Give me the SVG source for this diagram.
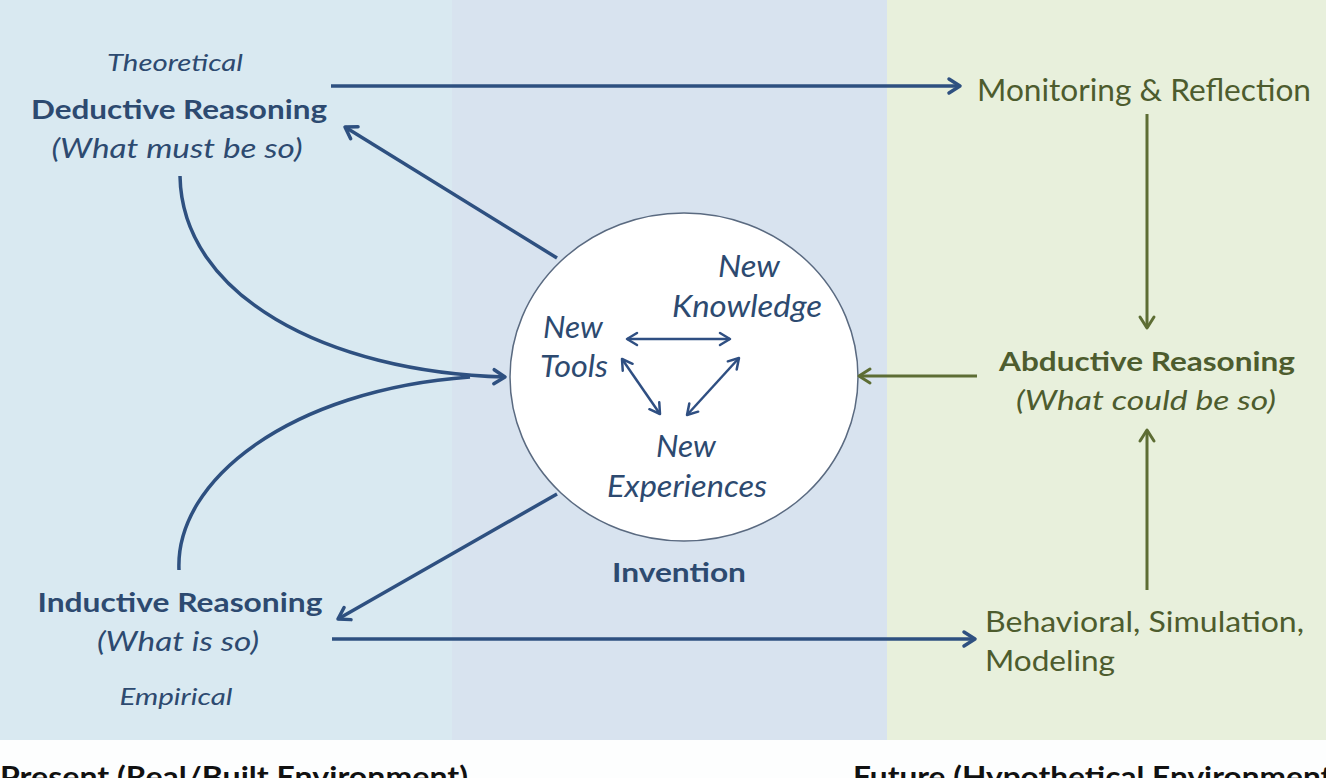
<svg xmlns="http://www.w3.org/2000/svg" width="1326" height="778" viewBox="0 0 1326 778">
<defs>
<style>
.t{font-family:Lato,"Open Sans","Liberation Sans",sans-serif;}
.b{font-weight:bold;}
.i{font-style:italic;}
.blue{fill:#2d4a70;}
.green{fill:#4d5c2e;}
.bl{stroke:#2e5080;stroke-width:3.5;fill:none;}
.gl{stroke:#5d6d34;stroke-width:3;fill:none;}
.il{stroke:#2f4f82;stroke-width:2.5;fill:none;}
</style>
<marker id="ab" markerUnits="userSpaceOnUse" markerWidth="20" markerHeight="20" refX="14" refY="8" orient="auto-start-reverse" viewBox="0 0 20 16">
<path d="M3,1 L14,8 L3,15" fill="none" stroke="#2e5080" stroke-width="3.5" stroke-linecap="round" stroke-linejoin="round"/>
</marker>
<marker id="ag" markerUnits="userSpaceOnUse" markerWidth="20" markerHeight="20" refX="14" refY="8" orient="auto-start-reverse" viewBox="0 0 20 16">
<path d="M3,1 L14,8 L3,15" fill="none" stroke="#5d6d34" stroke-width="3" stroke-linecap="round" stroke-linejoin="round"/>
</marker>
<marker id="ai" markerUnits="userSpaceOnUse" markerWidth="18" markerHeight="18" refX="12" refY="7" orient="auto-start-reverse" viewBox="0 0 18 14">
<path d="M2,1 L12,7 L2,13" fill="none" stroke="#2f4f82" stroke-width="2.5" stroke-linecap="round" stroke-linejoin="round"/>
</marker>
</defs>

<g id="background">
<rect x="0" y="0" width="1326" height="778" fill="#fdfefe"/>
<rect x="0" y="0" width="452" height="740" fill="#d9e9f1"/>
<rect x="452" y="0" width="435" height="740" fill="#d8e3ef"/>
<rect x="887" y="0" width="439" height="740" fill="#e8f0dc"/>
</g>

<g id="invention">
<ellipse cx="684" cy="377" rx="174" ry="164" fill="#ffffff" stroke="#5a6a80" stroke-width="1.5"/>
<text class="t i blue" font-size="30" x="749" y="277" text-anchor="middle" textLength="62" lengthAdjust="spacingAndGlyphs">New</text>
<text class="t i blue" font-size="30" x="747" y="317" text-anchor="middle" textLength="150" lengthAdjust="spacingAndGlyphs">Knowledge</text>
<text class="t i blue" font-size="30" x="573" y="338" text-anchor="middle" textLength="60" lengthAdjust="spacingAndGlyphs">New</text>
<text class="t i blue" font-size="30" x="574" y="377" text-anchor="middle" textLength="68" lengthAdjust="spacingAndGlyphs">Tools</text>
<text class="t i blue" font-size="30" x="686" y="457" text-anchor="middle" textLength="60" lengthAdjust="spacingAndGlyphs">New</text>
<text class="t i blue" font-size="30" x="687" y="497" text-anchor="middle" textLength="160" lengthAdjust="spacingAndGlyphs">Experiences</text>
<text class="t b blue" font-size="27" x="679" y="582" text-anchor="middle" textLength="134" lengthAdjust="spacingAndGlyphs">Invention</text>
</g>

<g id="deductive">
<text class="t i blue" font-size="24" x="175" y="71" text-anchor="middle" textLength="136" lengthAdjust="spacingAndGlyphs">Theoretical</text>
<text class="t b blue" font-size="27" x="179" y="119" text-anchor="middle" textLength="296" lengthAdjust="spacingAndGlyphs">Deductive Reasoning</text>
<text class="t i blue" font-size="27" x="177" y="158" text-anchor="middle" textLength="251" lengthAdjust="spacingAndGlyphs">(What must be so)</text>
</g>

<g id="inductive">
<text class="t b blue" font-size="27" x="180" y="612" text-anchor="middle" textLength="285" lengthAdjust="spacingAndGlyphs">Inductive Reasoning</text>
<text class="t i blue" font-size="27" x="178" y="651" text-anchor="middle" textLength="162" lengthAdjust="spacingAndGlyphs">(What is so)</text>
<text class="t i blue" font-size="24" x="176" y="705" text-anchor="middle" textLength="113" lengthAdjust="spacingAndGlyphs">Empirical</text>
</g>

<g id="monitoring">
<text class="t green" font-size="31" x="977" y="101" textLength="334" lengthAdjust="spacingAndGlyphs">Monitoring &amp; Reflection</text>
</g>

<g id="abductive">
<text class="t b green" font-size="27" x="1147" y="371" text-anchor="middle" textLength="296" lengthAdjust="spacingAndGlyphs">Abductive Reasoning</text>
<text class="t i green" font-size="27" x="1146" y="410" text-anchor="middle" textLength="260" lengthAdjust="spacingAndGlyphs">(What could be so)</text>
</g>

<g id="behavioral">
<text class="t green" font-size="29" x="985" y="632" textLength="319" lengthAdjust="spacingAndGlyphs">Behavioral, Simulation,</text>
<text class="t green" font-size="29" x="985" y="671" textLength="130" lengthAdjust="spacingAndGlyphs">Modeling</text>
</g>

<g id="footer">
<text class="t b" font-size="28" fill="#111111" x="0" y="787" textLength="468" lengthAdjust="spacingAndGlyphs">Present (Real/Built Environment)</text>
<text class="t b" font-size="28" fill="#111111" x="853" y="787" textLength="488" lengthAdjust="spacingAndGlyphs">Future (Hypothetical Environment)</text>
</g>

<g id="connectors">
<path class="bl" d="M331,86 L960,86" marker-end="url(#ab)"/>
<path class="bl" d="M332,639 L975,639" marker-end="url(#ab)"/>
<path class="bl" d="M557,258 L345,127" marker-end="url(#ab)"/>
<path class="bl" d="M557,494 L338,619" marker-end="url(#ab)"/>
<path class="bl" d="M180,176 C182,295 325,372 505,377" marker-end="url(#ab)"/>
<path class="bl" d="M179,570 C175,480 290,390 470,377"/>
<path class="gl" d="M1147,114 L1147,328" marker-end="url(#ag)"/>
<path class="gl" d="M1147,590 L1147,430" marker-end="url(#ag)"/>
<path class="gl" d="M977,376 L859,376" marker-end="url(#ag)"/>
<path class="il" d="M627,339 L730,339" marker-start="url(#ai)" marker-end="url(#ai)"/>
<path class="il" d="M622,359 L660,414" marker-start="url(#ai)" marker-end="url(#ai)"/>
<path class="il" d="M739,358 L687,415" marker-start="url(#ai)" marker-end="url(#ai)"/>
</g>
</svg>
